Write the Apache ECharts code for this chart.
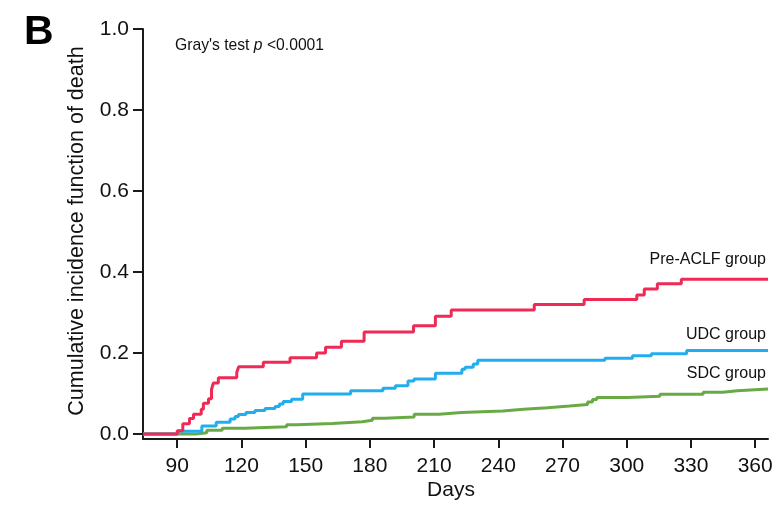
<!DOCTYPE html>
<html>
<head>
<meta charset="utf-8">
<script src="https://cdn.jsdelivr.net/npm/echarts@6/dist/echarts.min.js"></script>
<style>html,body{margin:0;padding:0;background:#fff}#c{width:782px;height:505px}</style>
</head>
<body>
<div id="c"></div>
<script>
// ---- data ----
const preAclfDays = [74, 90, 92.6, 95.7, 97.6, 101.2, 102.2, 104.6, 106, 106.9, 109.2, 117.8, 118.7, 130.2, 142.7, 155.1, 159.3, 166.7, 177.3, 200.4, 210.6, 218, 256.8, 280.1, 304.7, 308.2, 314.3, 325.5, 366];
const preAclfCif  = [0, 0.008, 0.025, 0.038, 0.049, 0.061, 0.076, 0.087, 0.110, 0.126, 0.139, 0.152, 0.166, 0.177, 0.188, 0.200, 0.214, 0.229, 0.252, 0.267, 0.291, 0.306, 0.320, 0.332, 0.343, 0.358, 0.371, 0.382, 0.382];

const udcDays = [74, 90.1, 101.5, 108.2, 114.7, 117, 118.6, 122.1, 126.3, 131, 135.7, 137.7, 139.5, 143.4, 148.6, 171, 186.1, 191.9, 197.8, 200.6, 210.6, 223, 224.5, 228.3, 230.4, 289.8, 302.7, 311.5, 328, 366];
const udcCif  = [0, 0.007, 0.020, 0.029, 0.037, 0.043, 0.048, 0.053, 0.058, 0.063, 0.068, 0.074, 0.080, 0.086, 0.099, 0.107, 0.113, 0.119, 0.131, 0.136, 0.150, 0.160, 0.165, 0.173, 0.182, 0.187, 0.193, 0.198, 0.206, 0.206];

const sdcDays = [74, 98.8, 103.8, 111, 121.3, 141.1, 146, 162.5, 176.4, 181.2, 187.1, 200.7, 212.3, 222.8, 242.1, 251.8, 263, 273.2, 281.7, 284, 286, 300.2, 315.5, 335.7, 345, 351.6, 366];
const sdcCif  = [0, 0.003, 0.009, 0.014, 0.018, 0.023, 0.026, 0.030, 0.034, 0.039, 0.042, 0.049, 0.053, 0.057, 0.061, 0.065, 0.069, 0.073, 0.079, 0.085, 0.090, 0.093, 0.098, 0.103, 0.107, 0.111, 0.111];

const xTicks = [90, 120, 150, 180, 210, 240, 270, 300, 330, 360];
const yTicks = [0, 0.2, 0.4, 0.6, 0.8, 1.0];
const seriesNames = ['Pre-ACLF group', 'UDC group', 'SDC group'];
const xTitle = 'Days';
const yTitle = 'Cumulative incidence function of death';
const panelLetter = 'B';
const testText = "Gray's test ";
const testP = 'p';
const testValue = ' <0.0001';

function pairs(d, v) { return d.map((x, i) => [x, v[i]]); }

const FONT = 'Liberation Sans, Arial, sans-serif';
const AX = '#1a1a1a';
const colors = ['#EE2A55', '#22AEEE', '#6AAA46'];

const chart = echarts.init(document.getElementById('c'), null, { renderer: 'canvas' });
chart.setOption({
  animation: false,
  backgroundColor: '#fff',
  grid: { left: 143, right: 14, top: 29, bottom: 66, containLabel: false },
  xAxis: {
    type: 'value', min: 74, max: 366,
    splitLine: { show: false },
    axisLine: { show: true, onZero: false, lineStyle: { color: AX, width: 2 } },
    axisTick: { show: true, customValues: xTicks, length: 9, lineStyle: { color: AX, width: 2 } },
    axisLabel: { customValues: xTicks, margin: 17, color: '#111', fontSize: 21, fontFamily: FONT }
  },
  yAxis: {
    type: 'value', min: -0.01235, max: 1.0,
    splitLine: { show: false },
    axisLine: { show: true, onZero: false, lineStyle: { color: AX, width: 2 } },
    axisTick: { show: true, customValues: yTicks, length: 10, lineStyle: { color: AX, width: 2 } },
    axisLabel: { customValues: yTicks, margin: 14, color: '#111', fontSize: 21, fontFamily: FONT,
      formatter: v => Number(v).toFixed(1) }
  },
  series: [
    { name: seriesNames[0], type: 'line', step: 'end', symbol: 'none', data: pairs(preAclfDays, preAclfCif), lineStyle: { color: colors[0], width: 3 }, z: 3 },
    { name: seriesNames[1], type: 'line', step: 'end', symbol: 'none', data: pairs(udcDays, udcCif), lineStyle: { color: colors[1], width: 3 }, z: 2 },
    { name: seriesNames[2], type: 'line', step: 'end', symbol: 'none', data: pairs(sdcDays, sdcCif), lineStyle: { color: colors[2], width: 3 }, z: 1 }
  ],
  graphic: [
    { type: 'text', left: 24, top: 12, style: { text: panelLetter, font: 'bold 41px ' + FONT, fill: '#000' } },
    { type: 'text', x: 175, y: 46, style: { text: '{a|' + testText + '}{b|' + testP + '}{a|' + testValue + '}', verticalAlign: 'middle',
        rich: { a: { fontSize: 15.7, fontFamily: FONT, fill: '#111' }, b: { fontSize: 15.7, fontFamily: FONT, fontStyle: 'italic', fill: '#111' } } } },
    { type: 'text', x: 766, y: 260, style: { text: seriesNames[0], font: '16px ' + FONT, fill: '#111', align: 'right', verticalAlign: 'middle' } },
    { type: 'text', x: 766, y: 335, style: { text: seriesNames[1], font: '16px ' + FONT, fill: '#111', align: 'right', verticalAlign: 'middle' } },
    { type: 'text', x: 766, y: 374, style: { text: seriesNames[2], font: '16px ' + FONT, fill: '#111', align: 'right', verticalAlign: 'middle' } },
    { type: 'text', x: 451, y: 490, style: { text: xTitle, font: '21px ' + FONT, fill: '#111', align: 'center', verticalAlign: 'middle' } },
    { type: 'text', x: 77, y: 231, rotation: Math.PI / 2, style: { text: yTitle, font: '21.5px ' + FONT, fill: '#111', align: 'center', verticalAlign: 'middle' } }
  ]
});
</script>
</body>
</html>
